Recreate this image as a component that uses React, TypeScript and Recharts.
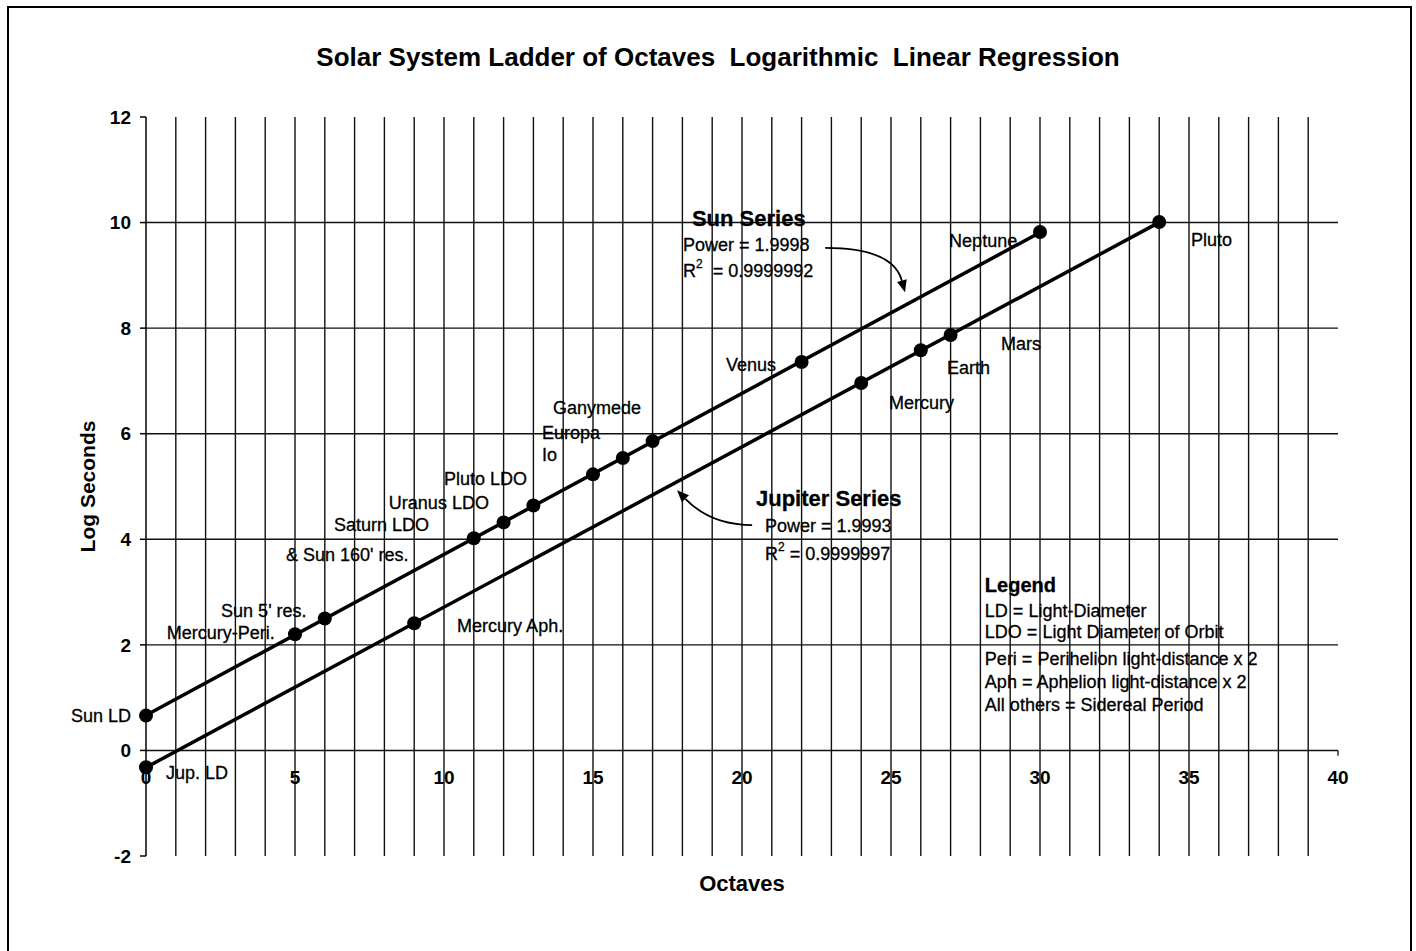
import React from "react";
import {
  ComposedChart,
  Line,
  Scatter,
  XAxis,
  YAxis,
  ReferenceLine,
  ReferenceDot,
} from "recharts";

// values
const sunOctaves = [0, 5, 6, 11, 12, 13, 15, 16, 17, 22, 30];
const sunLogSeconds = [0.66, 2.2, 2.5, 4.02, 4.32, 4.64, 5.23, 5.54, 5.86, 7.36, 9.82];
const jupiterOctaves = [0, 9, 24, 26, 27, 34];
const jupiterLogSeconds = [-0.32, 2.41, 6.96, 7.58, 7.87, 10.01];

const xTickLabels = [0, 5, 10, 15, 20, 25, 30, 35, 40];
const yTicks = [-2, 0, 2, 4, 6, 8, 10, 12];
const gridOctaves = Array.from({ length: 39 }, (_, i) => i + 1);
const gridLogSeconds = [0, 2, 4, 6, 8, 10];

// point names, anchored in chart units
const pointLabels = [
  { text: "Sun LD", x: -0.5, y: 0.66, anchor: "end" },
  { text: "Jup. LD", x: 0.67, y: -0.42, anchor: "start" },
  { text: "Mercury-Peri.", x: 0.7, y: 2.22, anchor: "start" },
  { text: "Sun 5' res.", x: 2.52, y: 2.65, anchor: "start" },
  { text: "& Sun 160' res.", x: 4.7, y: 3.7, anchor: "start" },
  { text: "Saturn LDO", x: 6.31, y: 4.28, anchor: "start" },
  { text: "Uranus LDO", x: 8.15, y: 4.68, anchor: "start" },
  { text: "Pluto LDO", x: 10.0, y: 5.14, anchor: "start" },
  { text: "Io", x: 13.29, y: 5.59, anchor: "start" },
  { text: "Europa", x: 13.29, y: 6.01, anchor: "start" },
  { text: "Ganymede", x: 13.66, y: 6.48, anchor: "start" },
  { text: "Venus", x: 19.46, y: 7.3, anchor: "start" },
  { text: "Neptune", x: 26.95, y: 9.65, anchor: "start" },
  { text: "Mercury Aph.", x: 10.44, y: 2.35, anchor: "start" },
  { text: "Mercury", x: 24.93, y: 6.58, anchor: "start" },
  { text: "Earth", x: 26.88, y: 7.24, anchor: "start" },
  { text: "Mars", x: 28.69, y: 7.7, anchor: "start" },
  { text: "Pluto", x: 35.07, y: 9.67, anchor: "start" },
];

const seriesNotes = [
  { text: "Sun Series", x: 18.32, y: 10.07, bold: true },
  { text: "Power = 1.9998", x: 18.02, y: 9.57 },
  { text: "R2  = 0.9999992", x: 18.02, y: 9.08 },
  { text: "Jupiter Series", x: 20.47, y: 4.78, bold: true },
  { text: "Power = 1.9993", x: 20.77, y: 4.25 },
  { text: "R2 = 0.9999997", x: 20.77, y: 3.73 },
];

const legendLines = [
  "Legend",
  "LD = Light-Diameter",
  "LDO = Light Diameter of Orbit",
  "Peri = Perihelion light-distance x 2",
  "Aph = Aphelion light-distance x 2",
  "All others = Sidereal Period",
];
const legendX = 28.15;
const legendY = [3.13, 2.65, 2.24, 1.74, 1.29, 0.87];

const arrows = [
  { from: { x: 22.79, y: 9.52 }, to: { x: 25.47, y: 8.68 }, bend: 0.85 },
  { from: { x: 20.34, y: 4.27 }, to: { x: 17.82, y: 4.93 }, bend: 0.55 },
];

const FONT = "'Liberation Sans', Arial, Helvetica, sans-serif";

function toPoints(xs: number[], ys: number[]) {
  return xs.map((x, i) => ({ x, y: ys[i] }));
}

// least squares trend line across the series' range
function trendLine(xs: number[], ys: number[]) {
  const n = xs.length;
  const mx = xs.reduce((a, b) => a + b, 0) / n;
  const my = ys.reduce((a, b) => a + b, 0) / n;
  let sxy = 0;
  let sxx = 0;
  xs.forEach((x, i) => {
    sxy += (x - mx) * (ys[i] - my);
    sxx += (x - mx) * (x - mx);
  });
  const m = sxy / sxx;
  const b = my - m * mx;
  const x0 = Math.min(...xs);
  const x1 = Math.max(...xs);
  return [
    { x: x0, y: m * x0 + b },
    { x: x1, y: m * x1 + b },
  ];
}

const sunPoints = toPoints(sunOctaves, sunLogSeconds);
const jupiterPoints = toPoints(jupiterOctaves, jupiterLogSeconds);
const sunTrend = trendLine(sunOctaves, sunLogSeconds);
const jupiterTrend = trendLine(jupiterOctaves, jupiterLogSeconds);

const Dot = (p: any) => <circle cx={p.cx} cy={p.cy} r={7} fill="#000" />;

function noteText(text: string, size: number, bold?: boolean, anchor = "start") {
  return (p: any) => {
    const sup = text.startsWith("R2");
    return (
      <text
        x={p.cx}
        y={p.cy}
        textAnchor={anchor}
        dominantBaseline="central"
        fontFamily={FONT}
        fontSize={size}
        fontWeight={bold ? 700 : 400}
        fill="#000"
        stroke="#000"
        strokeWidth={0.3}
        style={{ whiteSpace: "pre" }}
      >
        {sup ? (
          <>
            R
            <tspan dy={-7} fontSize={12}>
              2
            </tspan>
            <tspan dy={7}>{text.slice(2)}</tspan>
          </>
        ) : (
          text
        )}
      </text>
    );
  };
}

function curvedArrow(bend: number) {
  return (p: any) => {
    const { x1, y1, x2, y2 } = p;
    const qx = x1 + (x2 - x1) * bend;
    const qy = y1;
    const dx = x2 - qx;
    const dy = y2 - qy;
    const len = Math.hypot(dx, dy) || 1;
    const ux = dx / len;
    const uy = dy / len;
    const hl = 12;
    const hw = 5;
    const bx = x2 - ux * hl;
    const by = y2 - uy * hl;
    return (
      <g>
        <path d={`M${x1},${y1} Q${qx},${qy} ${bx},${by}`} fill="none" stroke="#000" strokeWidth={1.8} />
        <path
          d={`M${x2},${y2} L${bx - uy * hw},${by + ux * hw} L${bx + uy * hw},${by - ux * hw} Z`}
          fill="#000"
        />
      </g>
    );
  };
}

export default function App() {
  return (
    <div
      style={{
        position: "absolute",
        left: 0,
        top: 0,
        width: 1416,
        height: 951,
        overflow: "hidden",
        background: "#fff",
      }}
    >
      <div
        style={{
          position: "absolute",
          left: 7,
          top: 6,
          width: 1405,
          height: 1000,
          border: "2px solid #000",
          boxSizing: "border-box",
        }}
      />
      <div
        style={{
          position: "absolute",
          left: 718,
          top: 41,
          transform: "translateX(-50%)",
          fontFamily: FONT,
          fontWeight: 700,
          fontSize: 26,
          whiteSpace: "pre",
          lineHeight: "32px",
        }}
      >
        Solar System Ladder of Octaves  Logarithmic  Linear Regression
      </div>
      <div style={{ position: "absolute", left: 0, top: 0 }}>
        <ComposedChart width={1416} height={951} margin={{ top: 117, right: 78, left: 30, bottom: 41 }}>
          <XAxis
            type="number"
            dataKey="x"
            domain={[0, 40]}
            ticks={xTickLabels}
            axisLine={false}
            tickLine={false}
            tick={false}
            height={54}
            label={{
              value: "Octaves",
              position: "center",
              fontFamily: FONT,
              fontSize: 22,
              fontWeight: 700,
              fill: "#000",
            }}
          />
          <YAxis
            type="number"
            dataKey="y"
            domain={[-2, 12]}
            ticks={yTicks}
            interval={0}
            width={116}
            tickSize={6}
            tickMargin={9}
            axisLine={{ stroke: "#000", strokeWidth: 1.5 }}
            tickLine={{ stroke: "#000", strokeWidth: 1.5 }}
            tick={{ fontFamily: FONT, fontSize: 19, fontWeight: 700, fill: "#000" }}
            label={{
              value: "Log Seconds",
              angle: -90,
              position: "center",
              fontFamily: FONT,
              fontSize: 21,
              fontWeight: 700,
              fill: "#000",
            }}
          />

          {gridOctaves.map((x) => (
            <ReferenceLine key={`gx${x}`} x={x} stroke="#111" strokeWidth={1.4} />
          ))}
          {gridLogSeconds.map((y) => (
            <ReferenceLine key={`gy${y}`} y={y} stroke="#111" strokeWidth={1.4} />
          ))}
          <ReferenceLine
            segment={[
              { x: 40, y: 0 },
              { x: 40, y: -0.1 },
            ]}
            stroke="#111"
            strokeWidth={1.3}
            ifOverflow="visible"
          />

          {xTickLabels.map((t) => (
            <ReferenceDot
              key={`xt${t}`}
              x={t}
              y={0}
              ifOverflow="visible"
              shape={(p: any) => (
                <text
                  x={p.cx}
                  y={p.cy + 34}
                  textAnchor="middle"
                  fontFamily={FONT}
                  fontSize={19}
                  fontWeight={700}
                  fill="#000"
                >
                  {t}
                </text>
              )}
            />
          ))}

          <Line
            data={sunTrend}
            dataKey="y"
            stroke="#000"
            strokeWidth={3.5}
            dot={false}
            isAnimationActive={false}
          />
          <Line
            data={jupiterTrend}
            dataKey="y"
            stroke="#000"
            strokeWidth={3.5}
            dot={false}
            isAnimationActive={false}
          />
          <Scatter data={sunPoints} dataKey="y" shape={Dot} isAnimationActive={false} />
          <Scatter data={jupiterPoints} dataKey="y" shape={Dot} isAnimationActive={false} />

          {arrows.map((a, i) => (
            <ReferenceLine
              key={`ar${i}`}
              segment={[a.from, a.to]}
              ifOverflow="visible"
              shape={curvedArrow(a.bend)}
            />
          ))}

          {pointLabels.map((l) => (
            <ReferenceDot
              key={l.text}
              x={l.x}
              y={l.y}
              ifOverflow="visible"
              shape={noteText(l.text, 18, false, l.anchor)}
            />
          ))}
          {seriesNotes.map((n) => (
            <ReferenceDot
              key={n.text}
              x={n.x}
              y={n.y}
              ifOverflow="visible"
              shape={noteText(n.text, n.bold ? 22 : 18, n.bold)}
            />
          ))}
          {legendLines.map((line, i) => (
            <ReferenceDot
              key={line}
              x={legendX}
              y={legendY[i]}
              ifOverflow="visible"
              shape={noteText(line, i === 0 ? 20 : 18, i === 0)}
            />
          ))}
        </ComposedChart>
      </div>
    </div>
  );
}
